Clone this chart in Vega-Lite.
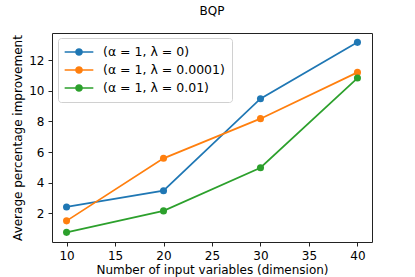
{
  "$schema": "https://vega.github.io/schema/vega-lite/v6.json",
  "width": 320,
  "height": 209,
  "autosize": "none",
  "padding": {"left": 52, "top": 33, "right": 43, "bottom": 35},
  "background": "white",
  "config": {
    "font": "DejaVu Sans",
    "view": {"stroke": "#222", "strokeWidth": 1},
    "axis": {"grid": false, "domain": false, "tickColor": "#222", "tickSize": 4, "labelColor": "#000", "titleColor": "#000", "labelFontSize": 12, "titleFontSize": 12, "titleFontWeight": "normal", "labelPadding": 4}
  },
  "title": {"text": "BQP", "fontSize": 12, "fontWeight": "normal", "baseline": "alphabetic", "offset": 6, "anchor": "middle", "frame": "group", "color": "#000"},
  "data": {"values": [
    {"dim": 10, "value": 2.42, "series": "(α = 1, λ = 0)"},
    {"dim": 20, "value": 3.48, "series": "(α = 1, λ = 0)"},
    {"dim": 30, "value": 9.48, "series": "(α = 1, λ = 0)"},
    {"dim": 40, "value": 13.16, "series": "(α = 1, λ = 0)"},
    {"dim": 10, "value": 1.51, "series": "(α = 1, λ = 0.0001)"},
    {"dim": 20, "value": 5.59, "series": "(α = 1, λ = 0.0001)"},
    {"dim": 30, "value": 8.18, "series": "(α = 1, λ = 0.0001)"},
    {"dim": 40, "value": 11.2, "series": "(α = 1, λ = 0.0001)"},
    {"dim": 10, "value": 0.76, "series": "(α = 1, λ = 0.01)"},
    {"dim": 20, "value": 2.16, "series": "(α = 1, λ = 0.01)"},
    {"dim": 30, "value": 4.98, "series": "(α = 1, λ = 0.01)"},
    {"dim": 40, "value": 10.83, "series": "(α = 1, λ = 0.01)"}
  ]},
  "encoding": {
    "x": {"field": "dim", "type": "quantitative", "scale": {"domain": [8.5, 41.5], "nice": false, "zero": false},
      "axis": {"values": [10, 15, 20, 25, 30, 35, 40], "title": "Number of input variables (dimension)", "titleX": 160, "titleY": 31, "titleBaseline": "alphabetic", "titleAnchor": "middle", "titleAlign": "center"}},
    "y": {"field": "value", "type": "quantitative", "scale": {"domain": [0.13, 13.77], "nice": false, "zero": false},
      "axis": {"values": [2, 4, 6, 8, 10, 12], "title": "Average percentage improvement", "titleX": -30.5, "titleY": 104.5, "titleAngle": -90, "titleBaseline": "alphabetic", "titleAlign": "center", "titleAnchor": "middle"}},
    "color": {"field": "series", "type": "nominal",
      "scale": {"domain": ["(α = 1, λ = 0)", "(α = 1, λ = 0.0001)", "(α = 1, λ = 0.01)"], "range": ["#1f77b4", "#ff7f0e", "#2ca02c"]},
      "legend": {"title": null, "orient": "none", "legendX": 6, "legendY": 5, "labelFontSize": 12.5, "labelColor": "#000",
        "symbolType": "M-2.39,0H2.39M-0.5,0A0.5,0.5,0,1,1,0.5,0A0.5,0.5,0,1,1,-0.5,0",
        "symbolSize": 144, "symbolStrokeWidth": 1.7, "symbolOffset": 7, "rowPadding": 4, "labelOffset": 17,
        "padding": 7, "strokeColor": "#d0d0d0", "cornerRadius": 3, "fillColor": "white"}}
  },
  "layer": [
    {"mark": {"type": "line", "strokeWidth": 1.7}},
    {"mark": {"type": "point", "filled": true, "size": 50, "opacity": 1}}
  ]
}
